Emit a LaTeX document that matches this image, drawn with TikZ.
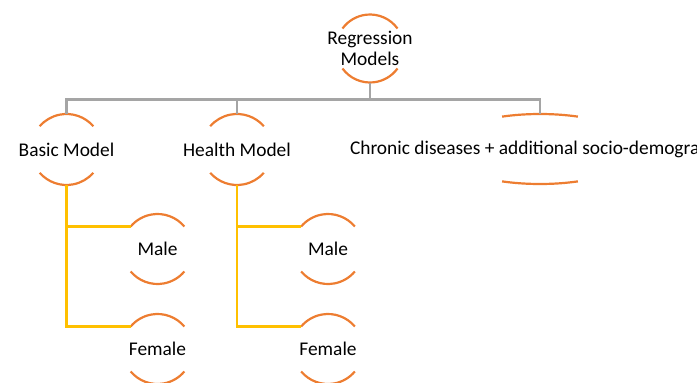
\documentclass[tikz,border=0pt]{standalone}
\usepackage{fontspec}
\setmainfont{Carlito}
\definecolor{arcor}{HTML}{ED7D31}
\definecolor{gry}{HTML}{A5A5A5}
\definecolor{yel}{HTML}{FFC000}
\begin{document}
\begin{tikzpicture}[x=1pt,y=1pt,
  lbl/.style={inner sep=0pt,outer sep=0pt,text=black,font=\fontsize{19.4}{20.5}\selectfont,align=center},
  arcst/.style={draw=arcor,line width=2.2pt},
  gl/.style={draw=gry,line width=2.2pt},
  yl/.style={draw=yel,line width=2.2pt}]
\useasboundingbox (0,0) rectangle (697,-383);
\clip (0,0) rectangle (697,-383);
\newcommand\cring[3]{%
  \draw[arcst] ([shift={(#1.center)}]90-#3:#2pt) arc[start angle=90-#3,end angle=90+#3,radius=#2pt];
  \draw[arcst] ([shift={(#1.center)}]270-#3:#2pt) arc[start angle=270-#3,end angle=270+#3,radius=#2pt];}
% nodes
\node[lbl] (rm) at (370,-48.5) {Regression\\Models};
\node[lbl] (bm) at (66.5,-149.5) {Basic Model};
\node[lbl] (hm) at (237,-149.5) {Health Model};
\coordinate (cdc) at (540,-149);
\node[lbl,anchor=west] (cd) at (350,-149.5) {Chronic diseases + additional socio-demogra};
\node[lbl] (m1) at (157.5,-249) {Male};
\node[lbl] (f1) at (157.5,-349) {Female};
\node[lbl] (m2) at (328,-249) {Male};
\node[lbl] (f2) at (328,-349) {Female};
% rings
\cring{rm}{34}{54}
\cring{bm}{35.5}{49}
\cring{hm}{35.5}{49}
\cring{m1}{35}{50}
\cring{f1}{35}{50}
\cring{m2}{35}{50}
\cring{f2}{35}{50}
\draw[arcst] ([shift={(cdc)}]67.7:100pt and 35pt) arc[start angle=67.7,end angle=112.3,x radius=100pt,y radius=35pt];
\draw[arcst] ([shift={(cdc)}]247.7:100pt and 35pt) arc[start angle=247.7,end angle=292.3,x radius=100pt,y radius=35pt];
% gray connectors
\draw[gl] ([yshift=-34pt]rm.center) -- ++(0,-17) coordinate (bus);
\draw[gl] (bus) -| ([yshift=35.5pt]bm.center);
\draw[gl] (bus) -| ([yshift=35.5pt]hm.center);
\draw[gl] (bus) -| ([yshift=35pt]cdc);
% yellow connectors
\draw[yl] ([yshift=-35.5pt]bm.center) |- ([shift={(140:35pt)}]f1.center);
\draw[yl] ([yshift=-35.5pt]bm.center) |- ([shift={(140:35pt)}]m1.center);
\draw[yl] ([yshift=-35.5pt]hm.center) |- ([shift={(140:35pt)}]f2.center);
\draw[yl] ([yshift=-35.5pt]hm.center) |- ([shift={(140:35pt)}]m2.center);
\end{tikzpicture}
\end{document}
